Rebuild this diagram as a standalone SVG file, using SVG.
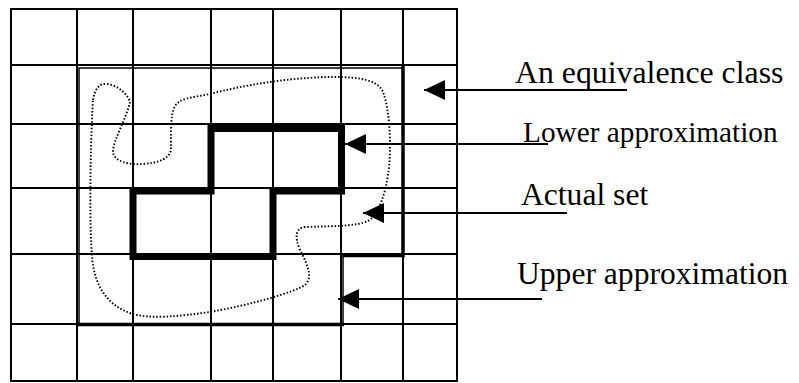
<svg xmlns="http://www.w3.org/2000/svg" width="799" height="383" viewBox="0 0 799 383">
<defs>
<marker id="ah" markerUnits="userSpaceOnUse" markerWidth="22" markerHeight="20" refX="21" refY="10" orient="auto">
<path d="M0,0 L21,10 L0,20 Z" fill="#000"/>
</marker>
<style>
.grid{stroke:#000;stroke-width:2;fill:none}
.thin{stroke:#000;stroke-width:1.5;fill:none}
.thick{stroke:#000;stroke-width:3.5;fill:none}
.lower{stroke:#000;stroke-width:7;fill:none;stroke-linejoin:miter}
.dots{stroke:#000;stroke-width:1.9;fill:none;stroke-dasharray:1.5 1.9}
.conn{stroke:#000;stroke-width:1.8;fill:none;marker-end:url(#ah)}
.lbl{font-family:"Liberation Serif","Times New Roman",serif;fill:#000}
</style>
</defs>
<rect width="799" height="383" fill="#fff"/>
<g id="grid" class="grid">
<rect x="11" y="9" width="446" height="372"/>
<path d="M77,9V381 M133,9V381 M211,9V381 M273,9V381 M341,9V381 M403,9V381"/>
<path d="M11,65H457 M11,124H457 M11,188H457 M11,254H457 M11,324H457"/>
</g>
<g id="upper-approximation">
<path class="thin" d="M403,68 H79 V325"/>
<path class="thin" d="M343,254 V325"/>
<path class="thick" d="M403,65 V255.5 H343"/>
<path class="thick" d="M78,324.5 H344"/>
</g>
<g id="lower-approximation">
<path class="lower" d="M211,128.5 H341.5 V191 H273 V256.5 H133 V191 H211 Z"/>
</g>
<g id="actual-set">
<path class="dots" d="M93,100 C95,88 100,83 107,84 C117,85 127,93 130,102 C126,120 113,140 113,152 C114,162 130,165 142,164 C160,163 171,158 171,148 C171,135 170,115 175,106 C180,98 190,98 210,94 C240,86 290,77 333,77 C360,77 378,80 383,92 C390,110 392,150 388,175 C385,195 380,208 372,218 C365,226 340,226 305,227 C296,228 294,236 300,250 C308,265 313,278 305,285 C295,292 250,305 210,312 C180,316 150,320 130,313 C110,306 97,290 93,265 C89,240 90,150 93,100 Z"/>
</g>
<g id="connectors">
<line class="conn" x1="627" y1="90" x2="424" y2="90"/>
<line class="conn" x1="548" y1="144" x2="345" y2="144"/>
<line class="conn" x1="567" y1="213" x2="363" y2="213"/>
<line class="conn" x1="542" y1="299" x2="338" y2="299"/>
</g>
<g id="label-equivalence-class"><text class="lbl" x="515" y="83" font-size="31.8">An equivalence class</text></g>
<g id="label-lower-approximation"><text class="lbl" x="523" y="142" font-size="29.3">Lower approximation</text></g>
<g id="label-actual-set"><text class="lbl" x="521" y="205" font-size="31.6">Actual set</text></g>
<g id="label-upper-approximation"><text class="lbl" x="517" y="284" font-size="31.6">Upper approximation</text></g>
</svg>
